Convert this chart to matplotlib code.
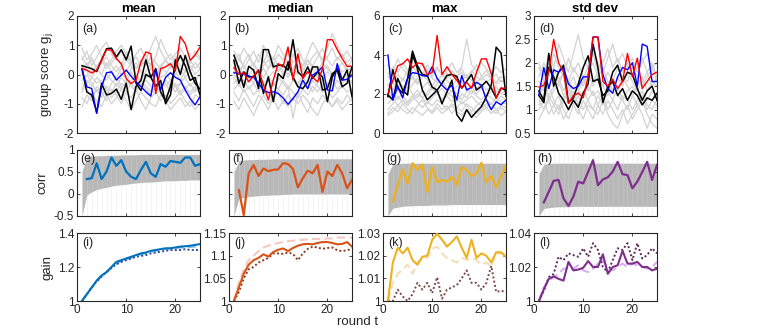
import numpy as np
import matplotlib
matplotlib.use("Agg")
import matplotlib.pyplot as plt

plt.rcParams['font.family'] = ['Liberation Sans', 'DejaVu Sans']
plt.rcParams['mathtext.fontset'] = 'custom'
plt.rcParams['mathtext.rm'] = 'Liberation Sans'
plt.rcParams['mathtext.it'] = 'Liberation Sans'

rounds = list(range(1, 26))
rounds_corr = list(range(2, 26))
titles = ["mean", "median", "max", "std dev"]
panel_labels = ["(a)", "(b)", "(c)", "(d)", "(e)", "(f)", "(g)", "(h)", "(i)", "(j)", "(k)", "(l)"]

# ---------------- Row 1: group scores ----------------
gray_a = [
    [0.5, 0.8, 0.3, 0.6, 0.9, 1.1, 0.7, 0.5, 0.8, 0.6, 0.4, 0.7, 0.9, 0.5, 0.3, 0.6, 1.2, 0.8, 0.5, 0.7, 0.9, 0.6, 0.4, 0.8, 0.6],
    [-0.3, -0.5, -0.8, -0.4, -0.6, -0.9, -0.5, -0.7, -1.0, -0.6, -0.8, -0.5, -0.9, -1.2, -0.8, -0.6, -0.9, -0.7, -1.0, -0.8, -0.6, -0.9, -1.1, -0.7, -0.8],
    [0.2, 0.4, 0.1, 0.3, 0.5, 0.2, 0.4, 0.6, 0.3, 0.1, 0.4, 0.2, 0.5, 0.3, 0.6, 0.4, 0.2, 0.5, 0.3, 0.4, 0.6, 0.3, 0.1, 0.4, 0.2],
    [-1.1, -0.7, -0.9, -0.5, -0.8, -0.4, -0.6, -0.3, -0.5, -0.2, -0.4, -0.6, -0.3, -0.5, -0.7, -0.4, -0.6, -0.8, -0.5, -0.3, -0.6, -0.4, -0.7, -0.5, -0.4],
    [0.0, 0.3, 0.6, 0.2, 0.0, 0.4, 0.1, -0.1, 0.2, 0.5, 0.3, 0.0, -0.2, 0.1, 0.4, 0.2, -0.1, 0.0, 0.3, 0.1, -0.2, 0.1, 0.3, 0.0, 0.2],
    [-0.5, -0.2, -0.4, -0.1, -0.3, 0.0, -0.2, -0.4, -0.1, -0.3, 0.1, -0.2, -0.4, -0.1, 0.0, -0.3, -0.5, -0.2, -0.4, -0.6, -0.3, -0.1, -0.4, -0.2, -0.5],
    [0.9, 0.5, 0.7, 1.0, 0.6, 0.3, 0.5, 0.8, 1.0, 0.7, 0.4, 0.6, 0.3, 0.5, 0.9, 1.3, 0.8, 0.5, 0.7, 0.4, 0.6, 0.3, 0.5, 0.2, 0.4],
    [-0.8, -1.0, -0.6, -0.9, -1.1, -0.7, -1.0, -0.8, -0.5, -0.9, -1.2, -0.9, -0.6, -0.8, -1.0, -1.1, -0.7, -0.9, -1.2, -1.0, -0.8, -1.1, -0.9, -1.2, -1.0],
    [0.3, 0.1, -0.1, 0.2, 0.0, -0.2, 0.1, 0.3, 0.0, -0.1, 0.2, 0.4, 0.1, -0.1, 0.2, 0.0, 0.3, 0.1, -0.2, 0.0, 0.2, -0.1, 0.1, -0.2, 0.0],
    [-0.2, 0.0, -0.3, -0.6, -0.4, -0.7, -0.3, -0.1, -0.4, -0.6, -0.3, -0.5, -0.2, -0.4, -0.6, -0.2, -0.4, -0.3, -0.6, -0.4, -0.7, -0.5, -0.3, -0.6, -0.3],
    [0.6, 0.3, 0.5, 0.2, 0.4, 0.6, 0.3, 0.1, 0.3, 0.8, 0.5, 0.2, 0.4, 0.7, 0.2, 0.0, 0.3, 0.5, 0.2, 0.6, 0.3, 0.1, 0.4, 0.7, 0.5],
    [-0.6, -0.3, -0.1, -0.3, -0.2, -0.5, -0.8, -0.6, -0.3, -0.4, -0.2, -0.1, -0.3, -0.2, -0.4, -0.5, -0.3, -0.4, -0.2, -0.4, -0.3, -0.5, -0.6, -0.4, -0.7],
]
red_a = [0.2, 0.15, 0.05, 0.15, 0.49, 0.85, 0.83, 0.54, 0.37, -0.14, -0.31, -0.19, 0.43, 0.77, 0.71, -0.65, 0.2, 0.26, 0.37, 0.12, 1.3, 1.05, 0.49, 0.66, 0.94]
blue_a = [0.2, -0.42, -0.48, -1.33, -0.42, 0.06, 0.09, -0.19, -0.02, 0.15, -0.06, -0.25, -0.42, -0.59, -0.74, 0.17, -0.53, -0.1, 0.06, -0.1, -0.19, -0.53, -0.82, -1.04, -0.76]
black1_a = [0.3, 0.25, 0.2, 0.1, 0.5, 0.88, 0.9, 0.6, 0.85, 0.5, 0.97, -0.3, -0.55, 0.0, -0.1, -0.4, -0.2, -1.0, -0.7, 0.5, 0.0, 0.65, 0.1, -0.3, -0.5]
black2_a = [0.2, -0.6, -0.7, -1.3, -0.3, -0.7, -0.65, -0.5, -0.85, -0.3, -1.2, -0.4, -0.2, 0.5, -0.1, 0.2, -0.6, -0.9, -0.4, 0.3, 0.65, 0.3, -0.2, -0.1, -0.7]

gray_b = [
    [0.4, 0.7, 0.2, 0.5, 0.8, 0.4, 1.0, 0.6, 0.3, 0.7, 0.5, 0.9, 0.4, 0.6, 0.3, 0.7, 1.1, 0.8, 0.5, 0.9, 1.4, 1.0, 0.6, 0.8, 0.5],
    [-0.6, -0.9, -0.5, -0.8, -1.1, -0.7, -0.9, -1.2, -0.8, -0.6, -1.0, -0.7, -0.9, -0.6, -1.0, -1.3, -0.8, -1.0, -0.7, -0.9, -1.1, -0.8, -1.0, -0.7, -0.9],
    [0.1, 0.3, 0.0, 0.2, 0.4, 0.1, -0.1, 0.2, 0.4, 0.1, 0.3, 0.0, 0.2, 0.5, 0.2, 0.0, 0.3, 0.1, 0.4, 0.2, 0.0, 0.3, 0.1, 0.2, 0.0],
    [-0.3, -0.1, -0.4, -0.2, 0.0, -0.3, -0.5, -0.2, -0.4, -0.1, -0.3, -0.5, -0.2, -0.4, -0.1, -0.3, -0.6, -0.3, -0.1, -0.4, -0.2, -0.5, -0.3, -0.1, -0.3],
    [0.8, 0.5, 0.9, 0.6, 0.3, 0.7, 0.4, 0.8, 0.5, 1.0, 0.7, 0.4, 0.6, 0.9, 0.5, 0.3, 0.6, 0.8, 0.4, 0.6, 0.9, 0.5, 0.7, 0.4, 0.6],
    [-0.9, -1.2, -0.8, -1.1, -1.4, -1.0, -0.7, -1.0, -0.8, -1.2, -0.9, -1.1, -0.8, -1.0, -0.7, -0.9, -1.2, -1.4, -1.0, -0.8, -1.1, -0.9, -1.2, -1.0, -0.8],
    [0.0, -0.2, 0.1, -0.1, -0.3, 0.0, 0.2, -0.1, 0.1, -0.2, 0.0, 0.2, -0.1, -0.3, 0.0, 0.2, -0.1, 0.0, -0.2, 0.1, -0.1, 0.1, -0.2, 0.0, -0.1],
    [0.3, 0.0, 0.4, 0.7, 0.3, 0.1, 0.5, 0.2, 0.6, 0.3, 0.0, 0.4, 0.7, 0.3, 0.1, 0.5, 0.3, 0.6, 0.9, 0.5, 0.3, 0.6, 0.4, 0.2, 0.5],
    [-0.5, -0.3, -0.6, -0.4, -0.7, -0.5, -0.3, -0.6, -0.9, -0.5, -0.7, -0.4, -0.6, -0.8, -0.5, -0.7, -0.4, -0.6, -0.3, -0.5, -0.8, -0.6, -0.4, -0.6, -0.5],
    [0.2, 0.5, 0.3, 0.0, 0.2, -0.1, 0.3, 0.5, 0.2, 0.4, 0.1, -0.1, 0.2, 0.0, 0.3, 0.5, 0.2, -0.1, 0.1, 0.3, 0.0, 0.2, 0.4, 0.1, 0.3],
    [-0.1, -0.4, -0.2, -0.5, -0.3, -0.6, -0.4, -0.1, -0.3, -0.5, -0.2, -0.4, -1.5, -0.6, -0.3, -0.5, -0.2, -0.4, -0.6, -0.3, -0.5, -0.2, -0.4, -0.3, -0.2],
]
red_b = [0.23, 0.01, 0.06, -0.25, -0.05, 0.15, -0.35, -0.87, -0.19, 0.37, 0.26, 0.94, -0.19, 0.71, -0.14, 0.1, -0.1, -0.25, 0.2, 1.19, 1.19, 0.85, 0.55, 0.28, 0.28]
blue_b = [0.06, 0.03, 0.01, -0.05, -0.1, -0.3, -0.53, -0.62, -0.59, -0.65, -0.8, -1.02, -0.82, -0.59, -0.19, -0.48, -0.02, 0.09, 0.26, -0.53, -0.56, 0.37, -0.19, -0.17, -0.02]
black1_b = [0.66, 0.2, -0.44, 0.28, 0.15, -0.48, 0.85, 0.85, 0.26, 0.32, 0.32, 0.15, 1.19, 0.09, -0.08, 0.26, -0.14, 0.09, -0.08, -0.93, -0.08, 0.2, -0.19, 0.15, -0.76]
black2_b = [0.49, -0.3, 0.09, -0.08, -0.08, 0.15, -0.65, -0.08, -0.93, 0.03, -0.14, 0.43, -0.08, -0.42, -0.48, -0.25, 0.26, 0.26, -0.53, -0.48, 0.03, 0.15, -0.42, -0.3, 0.26]

gray_c = [
    [2.2, 2.6, 2.3, 2.8, 2.5, 2.9, 2.6, 3.0, 2.7, 2.4, 2.8, 2.5, 3.1, 2.7, 2.9, 3.3, 2.8, 3.1, 3.5, 2.9, 3.2, 2.8, 3.0, 2.6, 2.9],
    [1.5, 1.8, 1.4, 1.7, 1.5, 1.9, 1.6, 1.3, 1.6, 1.4, 1.7, 1.5, 1.2, 1.5, 1.3, 1.6, 1.4, 1.1, 1.4, 1.6, 1.3, 1.5, 1.2, 1.4, 1.3],
    [3.0, 3.4, 3.1, 3.6, 3.2, 2.8, 3.3, 3.0, 3.5, 3.1, 3.4, 2.9, 3.2, 3.6, 3.1, 3.4, 4.8, 3.5, 3.2, 3.6, 3.3, 3.0, 3.4, 3.1, 3.3],
    [1.0, 1.3, 1.1, 1.5, 1.2, 1.0, 1.4, 1.7, 1.3, 1.1, 1.5, 1.2, 1.4, 1.0, 1.3, 1.1, 1.5, 1.3, 1.0, 1.2, 1.5, 1.2, 1.0, 1.3, 1.1],
    [2.5, 2.2, 2.7, 2.4, 2.1, 2.5, 2.8, 2.3, 2.6, 2.2, 2.5, 2.7, 2.3, 2.1, 2.4, 2.6, 2.3, 2.0, 2.3, 2.5, 2.2, 2.4, 2.1, 2.3, 2.2],
    [1.8, 2.0, 1.7, 2.1, 2.4, 2.0, 1.8, 2.2, 1.9, 2.3, 2.0, 1.7, 2.1, 1.9, 1.6, 2.0, 1.8, 2.2, 1.9, 1.7, 2.0, 1.8, 1.6, 1.9, 1.7],
    [2.9, 2.6, 3.0, 2.7, 3.2, 2.8, 2.5, 2.9, 3.3, 2.8, 2.6, 3.0, 2.7, 2.4, 2.8, 2.6, 3.0, 2.7, 2.5, 2.9, 2.6, 2.8, 2.5, 2.7, 2.6],
    [1.2, 1.5, 1.9, 1.6, 1.4, 1.7, 2.0, 1.8, 1.5, 1.8, 2.1, 1.7, 1.9, 1.6, 1.8, 1.5, 1.7, 1.9, 1.6, 1.4, 1.7, 1.5, 1.8, 1.6, 1.5],
    [3.5, 3.1, 3.8, 3.3, 3.0, 3.4, 3.1, 3.6, 3.2, 2.9, 3.3, 3.0, 2.8, 3.2, 2.9, 3.1, 2.8, 3.2, 2.9, 2.7, 3.0, 2.8, 2.6, 2.9, 2.7],
    [2.0, 1.7, 2.2, 1.9, 1.6, 1.9, 2.2, 1.8, 2.1, 2.4, 2.0, 2.3, 1.9, 2.2, 2.0, 1.7, 2.1, 2.4, 2.0, 2.3, 1.9, 2.1, 2.4, 2.0, 2.2],
    [0.9, 1.1, 1.4, 1.2, 1.0, 1.3, 1.1, 0.9, 1.2, 1.0, 1.3, 1.0, 1.2, 1.4, 1.1, 0.9, 1.2, 1.0, 0.8, 1.1, 1.3, 1.0, 1.2, 0.9, 1.1],
]
red_c = [2.0, 2.7, 3.45, 3.55, 3.8, 3.35, 3.6, 3.55, 3.0, 3.1, 5.0, 3.0, 3.4, 3.0, 2.7, 2.3, 2.6, 2.3, 3.1, 3.8, 3.8, 3.05, 1.8, 2.3, 2.3]
blue_c = [4.0, 1.7, 2.4, 1.8, 2.8, 3.1, 3.05, 2.95, 2.9, 3.4, 2.8, 2.45, 2.2, 2.45, 1.7, 2.95, 2.2, 2.35, 2.6, 2.45, 1.7, 1.2, 1.6, 1.45, 1.7]
black1_c = [1.87, 3.25, 2.3, 2.05, 2.8, 4.2, 3.45, 3.0, 2.95, 2.35, 2.2, 1.5, 2.1, 2.7, 0.94, 0.6, 1.2, 0.8, 1.1, 1.35, 1.85, 2.45, 4.4, 4.1, 1.87]
black2_c = [1.95, 1.7, 2.8, 2.2, 1.95, 4.0, 3.3, 2.2, 1.7, 1.95, 2.2, 2.55, 2.95, 3.0, 2.9, 2.3, 2.65, 3.0, 2.2, 2.4, 2.65, 2.3, 1.8, 2.3, 2.2]

gray_d = [
    [1.7, 2.0, 1.8, 2.2, 1.9, 1.7, 2.1, 1.8, 2.0, 1.7, 1.9, 2.2, 1.8, 2.0, 2.3, 1.9, 2.1, 1.8, 2.0, 1.7, 1.9, 2.1, 1.8, 2.0, 1.7],
    [1.0, 1.2, 0.9, 1.1, 1.3, 1.0, 0.8, 1.1, 0.9, 1.2, 1.0, 0.8, 1.1, 0.9, 1.2, 1.0, 0.8, 1.0, 0.7, 0.9, 1.1, 0.9, 0.6, 0.9, 0.8],
    [1.4, 1.6, 1.3, 1.5, 1.7, 1.4, 1.6, 1.3, 1.5, 1.7, 1.4, 1.6, 1.8, 1.5, 1.3, 1.6, 1.4, 1.7, 1.5, 1.3, 1.5, 1.7, 1.4, 1.6, 1.5],
    [2.0, 1.7, 2.2, 1.9, 2.4, 2.1, 1.8, 2.2, 2.6, 2.1, 1.9, 2.3, 2.0, 1.8, 2.1, 2.4, 2.0, 2.2, 1.9, 2.1, 1.8, 2.0, 2.2, 1.9, 2.0],
    [1.2, 1.0, 1.3, 1.1, 0.9, 1.2, 1.4, 1.1, 1.3, 1.0, 1.2, 1.4, 1.1, 1.3, 1.0, 1.2, 1.5, 1.2, 1.0, 1.3, 1.1, 1.3, 1.0, 1.2, 1.1],
    [1.6, 1.4, 1.7, 1.9, 1.6, 1.8, 1.5, 1.7, 1.4, 1.6, 1.8, 1.5, 1.7, 1.9, 1.6, 1.4, 1.7, 1.5, 1.8, 1.6, 1.4, 1.6, 1.8, 1.5, 1.7],
    [0.8, 1.0, 1.2, 0.9, 1.1, 0.8, 1.0, 1.3, 1.0, 0.8, 1.1, 1.0, 0.9, 1.2, 0.9, 0.7, 0.6, 0.9, 1.1, 0.8, 1.0, 1.2, 0.9, 0.7, 0.6],
    [1.3, 1.5, 1.2, 1.4, 1.6, 1.3, 1.5, 1.2, 1.4, 1.3, 1.5, 1.3, 1.4, 1.2, 1.4, 1.6, 1.3, 1.2, 1.4, 1.5, 1.3, 1.4, 1.2, 1.4, 1.3],
    [1.9, 1.6, 2.0, 1.7, 1.5, 1.8, 1.6, 1.9, 1.7, 1.5, 1.8, 2.0, 1.7, 1.5, 1.8, 1.6, 1.9, 1.7, 1.6, 1.9, 1.7, 1.5, 1.7, 1.9, 1.6],
    [1.1, 1.3, 1.5, 1.2, 1.0, 1.3, 1.2, 1.4, 1.1, 1.4, 1.2, 1.0, 1.3, 1.1, 1.4, 1.2, 1.0, 1.3, 1.2, 1.0, 1.2, 1.4, 1.1, 1.0, 1.2],
]
red_d = [1.48, 1.52, 1.8, 2.5, 2.0, 1.8, 1.13, 1.3, 1.35, 1.25, 1.7, 2.55, 2.55, 1.6, 1.5, 1.65, 1.45, 1.6, 2.2, 1.7, 2.1, 1.45, 1.6, 1.75, 1.8]
blue_d = [1.32, 1.9, 1.45, 1.85, 1.8, 1.9, 1.55, 1.45, 1.5, 1.7, 1.7, 2.55, 2.55, 1.75, 1.45, 1.35, 1.7, 1.9, 1.85, 2.0, 1.5, 2.4, 2.35, 1.6, 1.6]
black1_d = [1.4, 1.2, 2.2, 1.5, 1.8, 1.95, 1.15, 1.25, 1.55, 1.9, 2.15, 1.6, 1.65, 1.3, 1.4, 1.8, 1.95, 1.6, 1.8, 1.75, 1.45, 1.2, 1.4, 1.5, 1.2]
black2_d = [1.3, 1.15, 1.9, 1.7, 1.35, 1.2, 1.0, 1.2, 1.05, 1.35, 1.55, 2.4, 1.9, 1.15, 1.5, 1.6, 1.3, 1.45, 1.2, 1.4, 1.3, 1.1, 1.25, 1.2, 1.35]

# ---------------- Row 2: correlations ----------------
corr_mean = [0.34, 0.36, 0.70, 0.34, 0.51, 0.83, 0.64, 0.77, 0.51, 0.39, 0.34, 0.55, 0.73, 0.47, 0.39, 0.68, 0.62, 0.75, 0.73, 0.71, 0.83, 0.83, 0.64, 0.68]
corr_median = [0.09, -0.48, 0.47, 0.66, 0.41, 0.58, 0.52, 0.55, 0.56, 0.70, 0.68, 0.57, 0.15, 0.36, 0.53, 0.47, 0.66, 0.05, 0.51, 0.41, 0.66, 0.47, 0.13, 0.32]
corr_max = [-0.17, 0.2, 0.56, 0.24, 0.70, 0.55, 0.67, 0.05, 0.61, 0.27, 0.32, 0.28, 0.39, 0.20, 0.61, 0.55, 0.41, 0.47, 0.71, 0.27, 0.41, 0.15, 0.40, 0.66]
corr_std = [-0.19, 0.05, 0.30, 0.32, -0.10, -0.27, -0.06, 0.28, 0.24, 0.5, 0.77, 0.20, 0.33, 0.38, 0.51, 0.73, 0.45, 0.43, 0.13, 0.28, 0.5, 0.73, 0.32, 0.66]

band_lo_mean = [-0.5, -0.02, 0.05, 0.1, 0.13, 0.15, 0.18, 0.2, 0.21, 0.22, 0.24, 0.25, 0.26, 0.27, 0.27, 0.28, 0.29, 0.3, 0.3, 0.3, 0.31, 0.31, 0.32, 0.32, 0.32]
band_hi_mean = [0.5, 0.85, 0.86, 0.87, 0.87, 0.88, 0.88, 0.88, 0.89, 0.89, 0.89, 0.89, 0.9, 0.9, 0.9, 0.9, 0.9, 0.9, 0.9, 0.9, 0.9, 0.9, 0.9, 0.9, 0.9]
band_lo_median = [-0.5, -0.1, -0.08, -0.06, -0.05, -0.04, -0.03, -0.03, -0.02, -0.02, -0.01, -0.01, 0.0, 0.0, 0.0, 0.0, 0.0, 0.0, 0.0, 0.0, 0.0, 0.0, 0.0, 0.0, 0.0]
band_hi_median = [0.5, 0.75, 0.77, 0.78, 0.78, 0.79, 0.79, 0.79, 0.8, 0.8, 0.8, 0.8, 0.8, 0.8, 0.8, 0.8, 0.8, 0.8, 0.8, 0.8, 0.8, 0.8, 0.8, 0.8, 0.8]
band_lo_max = [-0.5, -0.32, -0.3, -0.28, -0.27, -0.27, -0.26, -0.26, -0.26, -0.25, -0.25, -0.25, -0.25, -0.24, -0.24, -0.24, -0.24, -0.24, -0.24, -0.24, -0.24, -0.24, -0.24, -0.24, -0.24]
band_hi_max = [0.45, 0.68, 0.69, 0.7, 0.7, 0.7, 0.7, 0.7, 0.7, 0.7, 0.7, 0.7, 0.7, 0.7, 0.7, 0.7, 0.7, 0.7, 0.7, 0.7, 0.7, 0.7, 0.7, 0.7, 0.7]
band_lo_std = [-0.5, -0.33, -0.31, -0.3, -0.29, -0.29, -0.29, -0.28, -0.28, -0.28, -0.28, -0.28, -0.28, -0.28, -0.28, -0.28, -0.28, -0.28, -0.28, -0.28, -0.28, -0.28, -0.28, -0.28, -0.28]
band_hi_std = [0.45, 0.68, 0.69, 0.7, 0.7, 0.7, 0.7, 0.7, 0.7, 0.7, 0.7, 0.7, 0.7, 0.7, 0.7, 0.7, 0.7, 0.7, 0.7, 0.7, 0.7, 0.7, 0.7, 0.7, 0.7]

# ---------------- Row 3: gains ----------------
gain_mean_solid = [1.0, 1.04, 1.08, 1.12, 1.15, 1.17, 1.2, 1.23, 1.24, 1.25, 1.26, 1.27, 1.28, 1.285, 1.295, 1.3, 1.305, 1.31, 1.31, 1.315, 1.32, 1.322, 1.325, 1.33, 1.335]
gain_mean_dash = [1.0, 1.04, 1.08, 1.115, 1.145, 1.17, 1.195, 1.22, 1.235, 1.245, 1.255, 1.265, 1.275, 1.28, 1.29, 1.295, 1.3, 1.305, 1.31, 1.31, 1.315, 1.315, 1.318, 1.32, 1.32]
gain_mean_dot = [1.0, 1.04, 1.08, 1.115, 1.145, 1.17, 1.195, 1.215, 1.23, 1.24, 1.25, 1.26, 1.265, 1.27, 1.28, 1.285, 1.29, 1.295, 1.3, 1.3, 1.3, 1.305, 1.3, 1.3, 1.3]

gain_median_solid = [1.0, 1.03, 1.06, 1.08, 1.09, 1.095, 1.103, 1.098, 1.108, 1.113, 1.116, 1.11, 1.117, 1.122, 1.125, 1.126, 1.125, 1.128, 1.13, 1.13, 1.128, 1.125, 1.126, 1.13, 1.12]
gain_median_dash = [1.0, 1.04, 1.07, 1.09, 1.1, 1.11, 1.118, 1.122, 1.125, 1.128, 1.13, 1.132, 1.133, 1.135, 1.135, 1.136, 1.137, 1.137, 1.137, 1.138, 1.138, 1.14, 1.14, 1.14, 1.14]
gain_median_dot = [1.0, 1.02, 1.05, 1.07, 1.075, 1.085, 1.09, 1.095, 1.105, 1.105, 1.104, 1.107, 1.104, 1.09, 1.105, 1.115, 1.12, 1.118, 1.115, 1.117, 1.118, 1.112, 1.11, 1.112, 1.115]

gain_max_solid = [1.0, 1.017, 1.0235, 1.021, 1.0235, 1.018, 1.016, 1.0195, 1.02, 1.027, 1.0297, 1.027, 1.024, 1.026, 1.0285, 1.0235, 1.019, 1.027, 1.019, 1.021, 1.02, 1.017, 1.0215, 1.0215, 1.0195]
gain_max_dash = [1.0, 1.008, 1.012, 1.014, 1.016, 1.012, 1.017, 1.019, 1.019, 1.023, 1.024, 1.021, 1.019, 1.018, 1.017, 1.019, 1.018, 1.019, 1.018, 1.016, 1.017, 1.015, 1.021, 1.021, 1.02]
gain_max_dot = [1.0, 1.0, 1.005, 1.002, 1.0, 1.003, 1.008, 1.005, 1.008, 1.0035, 1.0105, 1.001, 1.005, 1.006, 1.007, 1.01, 1.0135, 1.008, 1.008, 1.005, 1.008, 1.0155, 1.004, 1.0045, 1.004]

gain_std_solid = [1.0, 1.007, 1.013, 1.0145, 1.013, 1.012, 1.023, 1.018, 1.0185, 1.0195, 1.0235, 1.02, 1.02, 1.0275, 1.016, 1.02, 1.021, 1.0295, 1.022, 1.022, 1.023, 1.02, 1.02, 1.018, 1.019]
gain_std_dash = [1.0, 1.008, 1.012, 1.014, 1.016, 1.019, 1.019, 1.019, 1.021, 1.018, 1.017, 1.019, 1.022, 1.024, 1.019, 1.018, 1.02, 1.022, 1.02, 1.022, 1.021, 1.02, 1.019, 1.02, 1.023]
gain_std_dot = [1.0, 1.006, 1.014, 1.016, 1.026, 1.024, 1.028, 1.027, 1.026, 1.031, 1.026, 1.034, 1.03, 1.02, 1.017, 1.024, 1.031, 1.03, 1.034, 1.024, 1.034, 1.025, 1.027, 1.031, 1.028]

# ---------------- styling ----------------
AXC = (0.15, 0.15, 0.15)
FS = 8.5
LFS = 9.5
W, H = 763, 334
col_left = [77, 229, 383, 534]
col_w = 123
rows_px = [(16, 133), (150, 216), (233, 301)]

fig = plt.figure(figsize=(W / 100, H / 100), dpi=100)

def make_ax(r, c):
    top, bot = rows_px[r]
    ax = fig.add_axes([col_left[c] / W, 1 - bot / H, col_w / W, (bot - top) / H])
    ax.set_xlim(0, 25)
    ax.set_xticks([0, 10, 20])
    ax.tick_params(direction='in', top=True, right=True, labelsize=FS, colors=AXC,
                   length=2.5, width=0.6, pad=2)
    for s in ax.spines.values():
        s.set_color(AXC)
        s.set_linewidth(0.8)
    return ax

row1 = [
    (gray_a, red_a, blue_a, black1_a, black2_a, (-2, 2), [-2, -1, 0, 1, 2], ['-2', '-1', '0', '1', '2']),
    (gray_b, red_b, blue_b, black1_b, black2_b, (-2, 2), [-2, -1, 0, 1, 2], ['-2', '-1', '0', '1', '2']),
    (gray_c, red_c, blue_c, black1_c, black2_c, (0, 6), [0, 2, 4, 6], ['0', '2', '4', '6']),
    (gray_d, red_d, blue_d, black1_d, black2_d, (0.5, 3), [0.5, 1, 1.5, 2, 2.5, 3], ['0.5', '1', '1.5', '2', '2.5', '3']),
]
for c, (grays, red, blue, bk1, bk2, ylim, yt, ytl) in enumerate(row1):
    ax = make_ax(0, c)
    for g in grays:
        ax.plot(rounds, g, color='#d2d2d2', lw=0.9, zorder=1)
    ax.plot(rounds, bk2, color='k', lw=1.1, zorder=3)
    ax.plot(rounds, bk1, color='k', lw=1.1, zorder=3)
    ax.plot(rounds, blue, color='#0000ff', lw=1.0, zorder=4)
    ax.plot(rounds, red, color='#ff0000', lw=1.0, zorder=4)
    ax.set_ylim(*ylim)
    ax.set_yticks(yt)
    ax.set_yticklabels(ytl)
    ax.set_xticklabels([])
    ax.set_title(titles[c], fontsize=9.5, fontweight='bold', pad=3, color='k')
    ax.text(0.04, 0.94, panel_labels[c], transform=ax.transAxes, ha='left', va='top', fontsize=9, color=AXC)
    if c == 0:
        ax.set_ylabel('group score g$_j$', fontsize=LFS, color=AXC)
        ax.yaxis.set_label_coords(-0.18, 0.5)

row2 = [
    (corr_mean, band_lo_mean, band_hi_mean, '#0072BD'),
    (corr_median, band_lo_median, band_hi_median, '#D95319'),
    (corr_max, band_lo_max, band_hi_max, '#EDB120'),
    (corr_std, band_lo_std, band_hi_std, '#7E2F8E'),
]
for c, (vals, lo, hi, col) in enumerate(row2):
    ax = make_ax(1, c)
    ax.vlines(rounds, -0.5, 1, color='#f3f3f3', lw=0.6, zorder=0)
    ax.fill_between(rounds, lo, hi, color='#b8b8b8', lw=0, zorder=1)
    ax.vlines(rounds, lo, hi, color='white', alpha=0.15, lw=0.6, zorder=2)
    ax.plot(rounds_corr, vals, color=col, lw=1.6, zorder=3)
    ax.set_ylim(-0.5, 1)
    ax.set_yticks([-0.5, 0, 0.5, 1])
    if c == 0:
        ax.set_yticklabels(['-0.5', '0', '0.5', '1'])
        ax.set_ylabel('corr', fontsize=LFS, color=AXC)
        ax.yaxis.set_label_coords(-0.235, 0.5)
    else:
        ax.set_yticklabels([])
    ax.set_xticklabels([])
    ax.text(0.03, 0.95, panel_labels[4 + c], transform=ax.transAxes, ha='left', va='top', fontsize=9, color=AXC)

row3 = [
    (gain_mean_solid, gain_mean_dash, gain_mean_dot, '#0072BD', '#8fbfe3', '#2b4a9e', (1, 1.4), [1, 1.2, 1.4], ['1', '1.2', '1.4']),
    (gain_median_solid, gain_median_dash, gain_median_dot, '#D95319', '#f5c9bc', '#8c3a1c', (1, 1.15), [1, 1.05, 1.1, 1.15], ['1', '1.05', '1.1', '1.15']),
    (gain_max_solid, gain_max_dash, gain_max_dot, '#EDB120', '#f6dfb8', '#7f4747', (1, 1.03), [1, 1.01, 1.02, 1.03], ['1', '1.01', '1.02', '1.03']),
    (gain_std_solid, gain_std_dash, gain_std_dot, '#7E2F8E', '#d6b0f2', '#5a2a50', (1, 1.04), [1, 1.02, 1.04], ['1', '1.02', '1.04']),
]
for c, (sol, dsh, dot, cs, cd, cdt, ylim, yt, ytl) in enumerate(row3):
    ax = make_ax(2, c)
    ax.plot(rounds, dsh, color=cd, lw=1.5, ls=(0, (4, 2)), zorder=2)
    ax.plot(rounds, dot, color=cdt, lw=1.4, ls=(0, (1, 1.2)), zorder=3)
    ax.plot(rounds, sol, color=cs, lw=1.5, zorder=4)
    ax.set_ylim(*ylim)
    ax.set_yticks(yt)
    ax.set_yticklabels(ytl)
    ax.set_xticklabels(['0', '10', '20'])
    ax.text(0.04, 0.94, panel_labels[8 + c], transform=ax.transAxes, ha='left', va='top', fontsize=9, color=AXC)
    if c == 0:
        ax.set_ylabel('gain', fontsize=LFS, color=AXC)
        ax.yaxis.set_label_coords(-0.195, 0.5)

fig.text(358 / W, 1 - 322 / H, 'round t', ha='center', va='center', fontsize=9.5, color=AXC)

fig.savefig('out.png', dpi=100)
